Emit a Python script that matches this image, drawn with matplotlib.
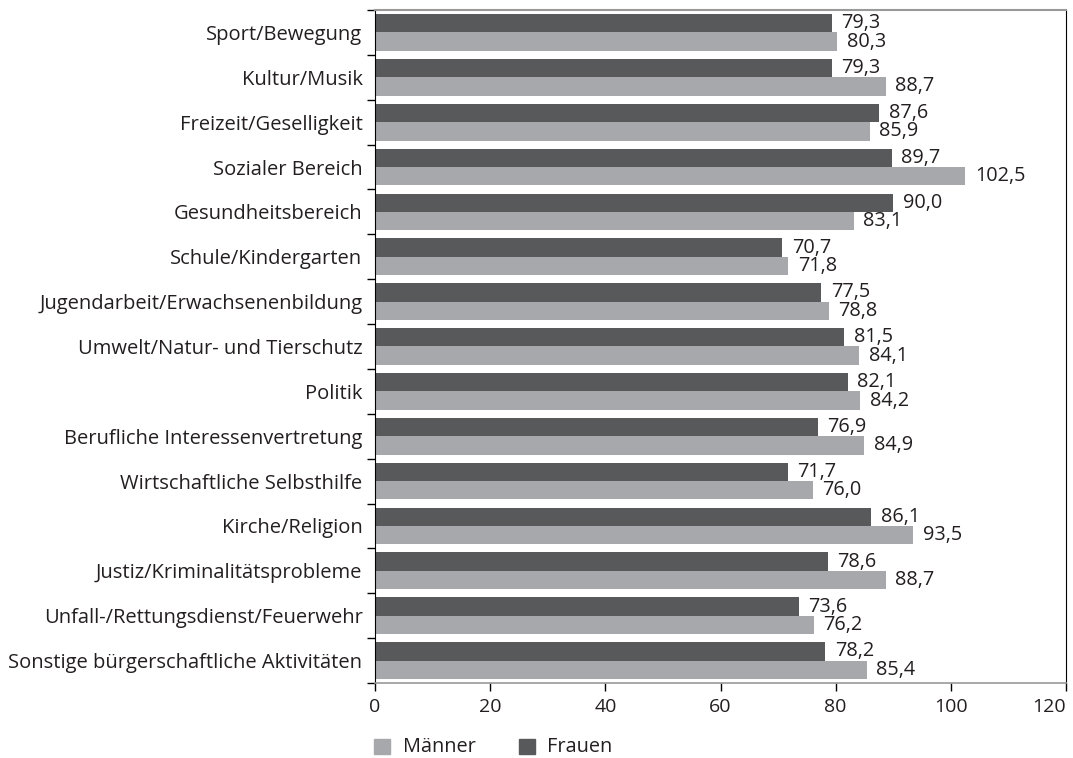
import matplotlib
matplotlib.use("Agg")
import matplotlib.pyplot as plt
from matplotlib.patches import Rectangle
import numpy as np

categories = ["Sport/Bewegung", "Kultur/Musik", "Freizeit/Geselligkeit", "Sozialer Bereich",
              "Gesundheitsbereich", "Schule/Kindergarten", "Jugendarbeit/Erwachsenenbildung",
              "Umwelt/Natur- und Tierschutz", "Politik", "Berufliche Interessenvertretung",
              "Wirtschaftliche Selbsthilfe", "Kirche/Religion", "Justiz/Kriminalitätsprobleme",
              "Unfall-/Rettungsdienst/Feuerwehr", "Sonstige bürgerschaftliche Aktivitäten"]
frauen = [79.3, 79.3, 87.6, 89.7, 90.0, 70.7, 77.5, 81.5, 82.1, 76.9, 71.7, 86.1, 78.6, 73.6, 78.2]
maenner = [80.3, 88.7, 85.9, 102.5, 83.1, 71.8, 78.8, 84.1, 84.2, 84.9, 76.0, 93.5, 88.7, 76.2, 85.4]
xticks = [0, 20, 40, 60, 80, 100, 120]
legend_labels = ["Männer", "Frauen"]

plt.rcParams['font.family'] = ['Open Sans', 'DejaVu Sans']
dark = "#58595b"
light = "#a7a8ab"
txt = "#231f20"

W, H = 1073, 758
fig = plt.figure(figsize=(W / 100, H / 100), dpi=100)
ax = fig.add_axes([375 / W, 1 - 683 / H, (1066 - 375) / W, (683 - 10) / H])

n = len(categories)
y = np.arange(n)
h = 0.41
ax.barh(y - h / 2, frauen, height=h, color=dark)
ax.barh(y + h / 2, maenner, height=h, color=light)

for i in range(n):
    ax.annotate(f"{frauen[i]:.1f}".replace(".", ","), (frauen[i], y[i] - h / 2),
                xytext=(7, 0), textcoords="offset points",
                va="center", ha="left", fontsize=14.3, color=txt)
    ax.annotate(f"{maenner[i]:.1f}".replace(".", ","), (maenner[i], y[i] + h / 2),
                xytext=(7, 0), textcoords="offset points",
                va="center", ha="left", fontsize=14.3, color=txt)

ax.set_ylim(n - 0.5, -0.5)
ax.set_xlim(0, 120)
ax.set_xticks(xticks)
labs = ax.set_xticklabels([str(t) for t in xticks], fontsize=14, color=txt)
labs[-1].set_horizontalalignment("right")
ax.set_yticks(y)
ax.set_yticklabels(categories, fontsize=14.5, color=txt)
ax.tick_params(axis="y", length=0, pad=9)
ax.set_yticks(np.arange(n + 1) - 0.5, minor=True)
ax.tick_params(axis="y", which="minor", length=6, width=1, color="black")
ax.tick_params(axis="x", length=6, width=1, color="black", pad=5)

ax.spines["left"].set_color("black")
ax.spines["right"].set_color("black")
ax.spines["top"].set_color("#999999")
ax.spines["top"].set_linewidth(1.5)
ax.spines["bottom"].set_color("#999999")
ax.spines["bottom"].set_linewidth(1.2)

# legend
for (sx, tx), lab, col in zip([(374, 403), (519, 547)], legend_labels, [light, dark]):
    fig.add_artist(Rectangle((sx / W, 1 - 754 / H), 16 / W, 15 / H,
                             transform=fig.transFigure, color=col))
    fig.text(tx / W, 1 - 747 / H, lab, ha="left", va="center", fontsize=14.3, color=txt)

fig.savefig("out.png", dpi=100)
